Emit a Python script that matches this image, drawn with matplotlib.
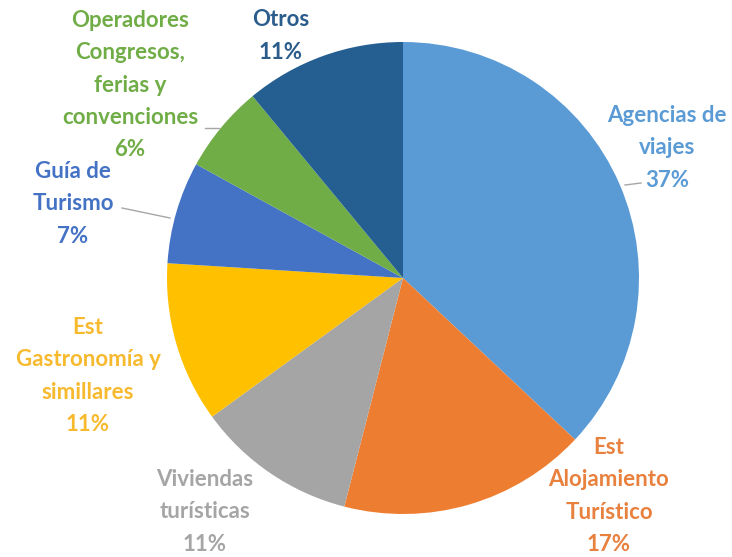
import matplotlib
matplotlib.use("Agg")
import matplotlib.pyplot as plt

# data
labels = [
    "Agencias de\nviajes",
    "Est\nAlojamiento\nTurístico",
    "Viviendas\nturísticas",
    "Est\nGastronomía y\nsimillares",
    "Guía de\nTurismo",
    "Operadores\nCongresos,\nferias y\nconvenciones",
    "Otros",
]
shares = [37, 17, 11, 11, 7, 6, 11]
colors = ["#5B9BD5", "#ED7D31", "#A5A5A5", "#FFC000", "#4472C4", "#70AD47", "#255E91"]
text_colors = ["#5B9BD5", "#E8803E", "#A5A5A5", "#F7B92E", "#4472C4", "#70AD47", "#2A5C8C"]

# label anchor (pixel coords, centre of text block) and leader lines
W, H = 732, 557
label_pos = [(667, 148), (609, 496), (205, 512), (88, 376), (73, 204), (130, 85), (281, 36)]
leaders = {0: [(625, 185), (641, 183)], 4: [(122, 208), (170, 218)], 5: [(205, 128), (219, 128)]}

cx, cy, r = 403, 278, 236

fig = plt.figure(figsize=(W / 100, H / 100), dpi=100)
ax = fig.add_axes([0, 0, 1, 1])

ax.pie(shares, colors=colors, startangle=90, counterclock=False,
       center=(cx, H - cy), radius=r, wedgeprops=dict(linewidth=0))
ax.set_xlim(0, W)
ax.set_ylim(0, H)
ax.set_aspect("equal")
ax.axis("off")

for i, (lab, val) in enumerate(zip(labels, shares)):
    x, y = label_pos[i]
    ax.text(x, H - y, f"{lab}\n{val}%", ha="center", va="center",
            color=text_colors[i], fontsize=16, fontweight="bold",
            family="Lato", linespacing=1.66)

for i, pts in leaders.items():
    xs = [p[0] for p in pts]
    ys = [H - p[1] for p in pts]
    ax.plot(xs, ys, color="#A6A6A6", lw=1)

fig.savefig("out.png", dpi=100)
